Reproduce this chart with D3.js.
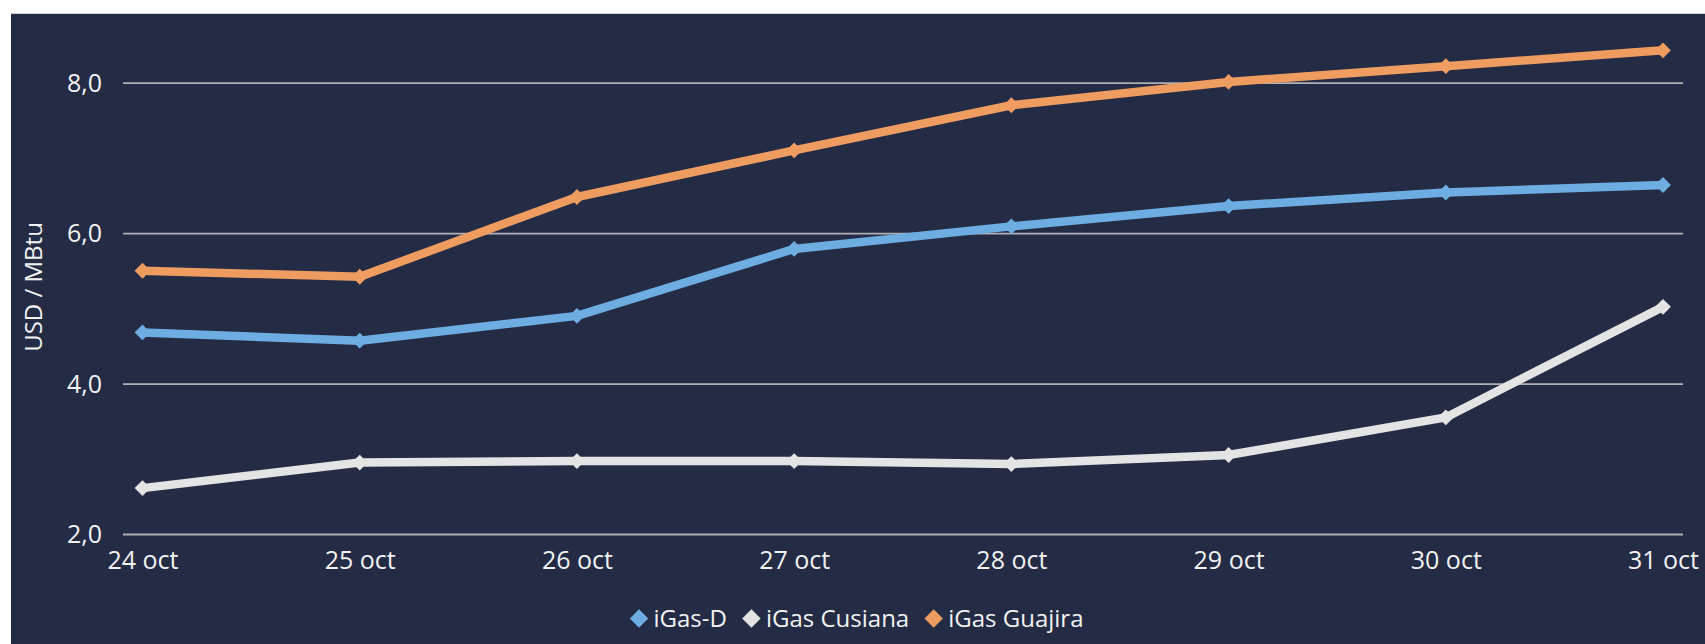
<!DOCTYPE html>
<html>
<head>
<meta charset="utf-8">
<script src="https://cdn.jsdelivr.net/npm/d3@7"></script>
<style>
  body { margin: 0; background: #ffffff; }
  text { font-family: "Open Sans", "Noto Sans", sans-serif; fill: #f2f2f2; }
</style>
</head>
<body>
<div id="chart"></div>
<script>
// chart data
var days = ["24 oct", "25 oct", "26 oct", "27 oct", "28 oct", "29 oct", "30 oct", "31 oct"];
var seriesNames = ["iGas-D", "iGas Cusiana", "iGas Guajira"];
var igasD = [4.68, 4.57, 4.90, 5.79, 6.09, 6.36, 6.54, 6.64];
var igasCusiana = [2.61, 2.95, 2.97, 2.97, 2.93, 3.05, 3.55, 5.02];
var igasGuajira = [5.50, 5.42, 6.48, 7.10, 7.70, 8.01, 8.22, 8.43];
var yTicks = [2, 4, 6, 8];
var yTitle = "USD / MBtu";

var width = 1705, height = 644;
var colors = ["#6eade2", "#e4e4e4", "#ee9c60"];
var series = [igasD, igasCusiana, igasGuajira];

var svg = d3.select("#chart").append("svg")
    .attr("width", width)
    .attr("height", height);

// background panel
svg.append("rect")
    .attr("x", 11).attr("y", 13)
    .attr("width", width - 11).attr("height", height - 13)
    .attr("fill", "#242b45");
svg.append("line")
    .attr("x1", 11).attr("x2", width)
    .attr("y1", 13.5).attr("y2", 13.5)
    .attr("stroke", "#d0d0d0").attr("stroke-width", 1);

var x = d3.scalePoint().domain(days).range([142.5, 1663]);
var y = d3.scaleLinear().domain([2, 8]).range([534, 82.7]);

// y axis with gridlines
var yAxis = svg.append("g")
    .attr("transform", "translate(123,0)")
    .call(d3.axisLeft(y)
        .tickValues(yTicks)
        .tickSize(-(1683 - 123))
        .tickPadding(21)
        .tickFormat(function(d) { return d3.format(".1f")(d).replace(".", ","); }));
yAxis.select(".domain").remove();
yAxis.selectAll(".tick line")
    .attr("stroke", "#b0b0b4")
    .attr("stroke-width", 1.8);
yAxis.selectAll(".tick text")
    .style("font-size", "25px")
    .attr("dy", "0.34em");

// x axis labels
var xAxis = svg.append("g")
    .attr("transform", "translate(0,534)")
    .call(d3.axisBottom(x).tickSize(0).tickPadding(17));
xAxis.select(".domain").remove();
xAxis.selectAll(".tick text").style("font-size", "25px");

// axis title
svg.append("text")
    .attr("transform", "translate(42,287) rotate(-90)")
    .attr("text-anchor", "middle")
    .style("font-size", "24px")
    .text(yTitle);

// lines
var line = d3.line()
    .x(function(d, i) { return x(days[i]); })
    .y(function(d) { return y(d); });

var diamond = d3.symbol().type(d3.symbolSquare).size(125);

series.forEach(function(values, s) {
    var g = svg.append("g");
    g.append("path")
        .datum(values)
        .attr("d", line)
        .attr("fill", "none")
        .attr("stroke", colors[s])
        .attr("stroke-width", 8.5)
        .attr("stroke-linejoin", "round");
    g.selectAll("path.marker")
        .data(values)
        .enter()
        .append("path")
        .attr("class", "marker")
        .attr("d", diamond)
        .attr("fill", colors[s])
        .attr("transform", function(d, i) {
            return "translate(" + x(days[i]) + "," + y(d) + ") rotate(45)";
        });
});

// legend
var legend = svg.append("g");
var legendItems = legend.selectAll("g")
    .data(seriesNames)
    .enter()
    .append("g");
legendItems.append("path")
    .attr("d", d3.symbol().type(d3.symbolSquare).size(170))
    .attr("transform", "translate(9.5,0) rotate(45)")
    .attr("fill", function(d, i) { return colors[i]; });
legendItems.append("text")
    .attr("x", 24)
    .attr("y", 0)
    .attr("dy", "0.35em")
    .style("font-size", "24px")
    .text(function(d) { return d; });

var offset = 0;
legendItems.each(function() {
    var w = d3.select(this).select("text").node().getComputedTextLength();
    d3.select(this).attr("transform", "translate(" + offset + ",0)");
    offset += 24 + w + 15;
});
offset -= 15;
legend.attr("transform", "translate(" + (856.5 - offset / 2) + ",618.5)");
</script>
</body>
</html>
